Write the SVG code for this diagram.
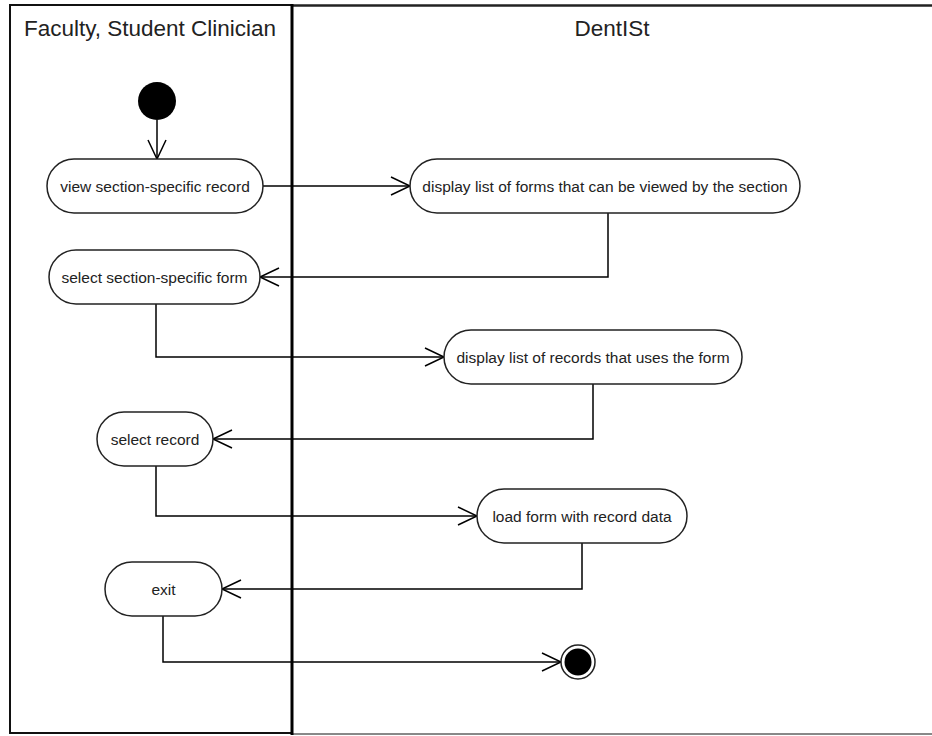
<svg xmlns="http://www.w3.org/2000/svg" width="932" height="736" viewBox="0 0 932 736">
  <style>
    .lane { fill: none; stroke: #111; stroke-width: 2; }
    .divider { stroke: #000; stroke-width: 3; }
    .head { font-family: "Liberation Sans", Arial, sans-serif; font-size: 22.5px; fill: #222; text-anchor: middle; }
    .act rect { fill: #fff; stroke: #222; stroke-width: 1.5; }
    .act text { font-family: "Liberation Sans", Arial, sans-serif; font-size: 15.5px; fill: #222; text-anchor: middle; }
    .flow { fill: none; stroke: #000; stroke-width: 1.5; marker-end: url(#open); }
  </style>
  <defs>
    <marker id="open" markerWidth="24" markerHeight="24" refX="20" refY="10" orient="auto" markerUnits="userSpaceOnUse" viewBox="0 0 24 20">
      <path d="M1,1 L20,10 L1,19" fill="none" stroke="#000" stroke-width="1.5"/>
    </marker>
  </defs>

  <rect width="932" height="736" fill="#fff"/>

  <!-- swimlanes -->
  <g id="lanes">
    <rect class="lane" x="10" y="5" width="282" height="728"/>
    <line x1="292" y1="5.5" x2="932" y2="5.5" stroke="#222" stroke-width="2.5"/>
    <line x1="292" y1="734" x2="932" y2="734" stroke="#888" stroke-width="2"/>
    <line class="divider" x1="292" y1="4" x2="292" y2="735"/>
    <text class="head" x="150" y="36">Faculty, Student Clinician</text>
    <text class="head" x="612" y="36">DentISt</text>
  </g>

  <!-- connectors -->
  <g id="connectors">
    <path class="flow" d="M157,120 L157,159"/>
    <path class="flow" d="M263,186 L410,186"/>
    <path class="flow" d="M608,213 L608,277 L260,277"/>
    <path class="flow" d="M156,304 L156,357 L444,357"/>
    <path class="flow" d="M593,384 L593,439 L213,439"/>
    <path class="flow" d="M156,466 L156,516 L477,516"/>
    <path class="flow" d="M582,543 L582,589 L222,589"/>
    <path class="flow" d="M163,616 L163,662 L561,662"/>
  </g>

  <!-- start / end -->
  <g id="start">
    <circle cx="157" cy="101" r="19" fill="#000"/>
  </g>
  <g id="end">
    <circle cx="578" cy="662" r="17" fill="#fff" stroke="#222" stroke-width="1.5"/>
    <circle cx="578" cy="662" r="13.5" fill="#000"/>
  </g>

  <!-- activities -->
  <g id="view-record" class="act">
    <rect x="47" y="159" width="216" height="54" rx="27"/>
    <text x="155" y="192">view section-specific record</text>
  </g>
  <g id="display-forms" class="act">
    <rect x="410" y="159" width="390" height="54" rx="27"/>
    <text x="605" y="192">display list of forms that can be viewed by the section</text>
  </g>
  <g id="select-form" class="act">
    <rect x="49" y="250" width="211" height="54" rx="27"/>
    <text x="154.5" y="283">select section-specific form</text>
  </g>
  <g id="display-records" class="act">
    <rect x="444" y="330" width="298" height="54" rx="27"/>
    <text x="593" y="363">display list of records that uses the form</text>
  </g>
  <g id="select-record" class="act">
    <rect x="97" y="412" width="116" height="54" rx="27"/>
    <text x="155" y="445">select record</text>
  </g>
  <g id="load-form" class="act">
    <rect x="477" y="489" width="210" height="54" rx="27"/>
    <text x="582" y="522">load form with record data</text>
  </g>
  <g id="exit" class="act">
    <rect x="105" y="562" width="117" height="54" rx="27"/>
    <text x="163.5" y="595">exit</text>
  </g>
</svg>
